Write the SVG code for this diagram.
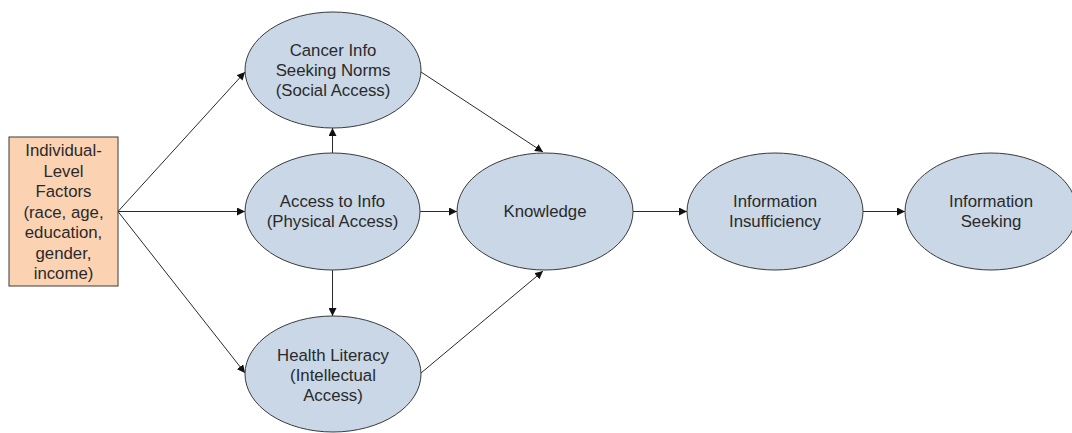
<svg xmlns="http://www.w3.org/2000/svg" width="1072" height="433" viewBox="0 0 1072 433">
<style>
.e{fill:#c9d7e6;stroke:#3a3a3a;stroke-width:1}
.b{fill:#fbd3b3;stroke:#3a3a3a;stroke-width:1}
.t{font-family:"Liberation Sans",Arial,sans-serif;font-size:16.8px;fill:#2a2a2a;text-anchor:middle}
.c{stroke:#2a2a2a;stroke-width:1;fill:none;marker-end:url(#a)}
</style>
<defs>
<marker id="a" viewBox="0 0 10 10" refX="10" refY="5" markerWidth="8" markerHeight="8" markerUnits="userSpaceOnUse" orient="auto">
<path d="M0,0 L10,5 L0,10 z" fill="#111"/>
</marker>
</defs>
<rect width="1072" height="433" fill="#fff"/>
<g id="connectors">
<line class="c" x1="118" y1="211.5" x2="245" y2="72"/>
<line class="c" x1="118" y1="211.5" x2="245" y2="211.5"/>
<line class="c" x1="118" y1="211.5" x2="245" y2="373"/>
<line class="c" x1="332.5" y1="153" x2="332.5" y2="128"/>
<line class="c" x1="332.5" y1="270" x2="332.5" y2="316"/>
<line class="c" x1="420" y1="211.5" x2="457" y2="211.5"/>
<line class="c" x1="421" y1="72" x2="543" y2="152"/>
<line class="c" x1="421" y1="373" x2="543" y2="271"/>
<line class="c" x1="633" y1="211.5" x2="687" y2="211.5"/>
<line class="c" x1="863" y1="211.5" x2="905" y2="211.5"/>
</g>
<g id="individual">
<rect class="b" x="9" y="137" width="109" height="149"/>
<text class="t" x="63.5" y="156">Individual-</text>
<text class="t" x="63.5" y="176.5">Level</text>
<text class="t" x="63.5" y="197">Factors</text>
<text class="t" x="63.5" y="217.5">(race, age,</text>
<text class="t" x="63.5" y="238">education,</text>
<text class="t" x="63.5" y="258.5">gender,</text>
<text class="t" x="63.5" y="279">income)</text>
</g>
<g id="norms">
<ellipse class="e" cx="333" cy="70" rx="88" ry="58"/>
<text class="t" x="333" y="56">Cancer Info</text>
<text class="t" x="333" y="76">Seeking Norms</text>
<text class="t" x="333" y="96">(Social Access)</text>
</g>
<g id="access">
<ellipse class="e" cx="332.5" cy="211.5" rx="87.5" ry="58.5"/>
<text class="t" x="332.5" y="207">Access to Info</text>
<text class="t" x="332.5" y="227">(Physical Access)</text>
</g>
<g id="literacy">
<ellipse class="e" cx="333" cy="374" rx="88" ry="58"/>
<text class="t" x="333" y="361">Health Literacy</text>
<text class="t" x="333" y="381">(Intellectual</text>
<text class="t" x="333" y="401">Access)</text>
</g>
<g id="knowledge">
<ellipse class="e" cx="545" cy="211.5" rx="88" ry="58.5"/>
<text class="t" x="545" y="217">Knowledge</text>
</g>
<g id="insufficiency">
<ellipse class="e" cx="775" cy="211.5" rx="88" ry="58.5"/>
<text class="t" x="775" y="207">Information</text>
<text class="t" x="775" y="227">Insufficiency</text>
</g>
<g id="seeking">
<ellipse class="e" cx="991" cy="211.5" rx="86" ry="58.5"/>
<text class="t" x="991" y="207">Information</text>
<text class="t" x="991" y="227">Seeking</text>
</g>
</svg>
